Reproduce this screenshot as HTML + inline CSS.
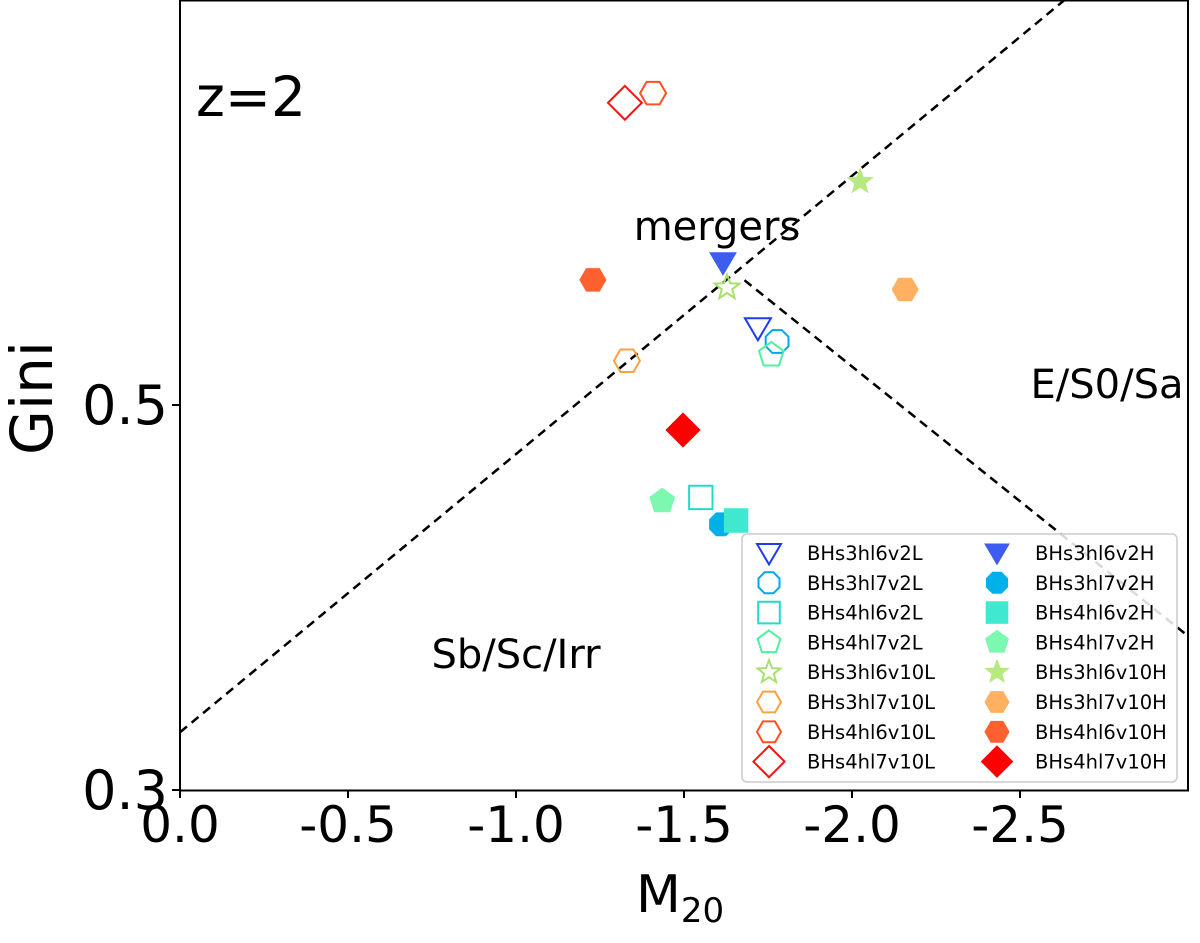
<!DOCTYPE html>
<html><head><meta charset="utf-8"><style>
body{margin:0;background:#fff;}
svg text{font-family:"DejaVu Sans","Liberation Sans",sans-serif;}
</style></head><body>
<svg id="chart" width="1200" height="938" xmlns="http://www.w3.org/2000/svg"></svg>
<script>
const names=["BHs3hl6v2L","BHs3hl7v2L","BHs4hl6v2L","BHs4hl7v2L","BHs3hl6v10L","BHs3hl7v10L","BHs4hl6v10L","BHs4hl7v10L",
"BHs3hl6v2H","BHs3hl7v2H","BHs4hl6v2H","BHs4hl7v2H","BHs3hl6v10H","BHs3hl7v10H","BHs4hl6v10H","BHs4hl7v10H"];
const m20Values=[-1.72,-1.777,-1.55,-1.76,-1.628,-1.33,-1.408,-1.324,-1.616,-1.61,-1.655,-1.435,-2.024,-2.158,-1.229,-1.497];
const giniValues=[0.540,0.533,0.452,0.526,0.561,0.523,0.662,0.657,0.574,0.438,0.440,0.450,0.616,0.560,0.565,0.487];
const shapes=["tri","oct","sq","pent","star","hex","hex","dia","tri","oct","sq","pent","star","hex","hex","dia"];
const colors=["#1f3cf0","#00a8e8","#20dcc8","#50f0a0","#a8e070","#ffa040","#ff5020","#ff1010",
"#3d5cf0","#00b0e8","#40e8d0","#7cf8b0","#b8e880","#ffb060","#ff6030","#ff0000"];
const xTicks=[0,-0.5,-1,-1.5,-2,-2.5];
const yTicks=[0.3,0.5];
const X0=180,X1=1188,Y0=0,Y1=790;
const xS=v=>X0+(-v)*(X1-X0)/3.0;
const yS=g=>405-(g-0.5)*1925;
const svg=document.getElementById('chart');
const NS="http://www.w3.org/2000/svg";
function mk(t,a){const e=document.createElementNS(NS,t);for(const k in a)e.setAttribute(k,a[k]);svg.appendChild(e);return e;}
function poly(n,r,rot){let p=[];for(let i=0;i<n;i++){const a=rot+i*2*Math.PI/n;p.push([r*Math.cos(a),r*Math.sin(a)]);}return p;}
function shapePts(s,cx,cy,r){let p;
 if(s=="tri")p=[[-r,-r*0.75],[r,-r*0.75],[0,r*0.95]];
 else if(s=="oct")p=poly(8,r*0.95,Math.PI/8);
 else if(s=="sq")p=[[-r*0.9,-r*0.9],[r*0.9,-r*0.9],[r*0.9,r*0.9],[-r*0.9,r*0.9]];
 else if(s=="pent")p=poly(5,r,-Math.PI/2);
 else if(s=="hex")p=poly(6,r,0);
 else if(s=="dia")p=[[0,-r*1.3],[r*1.3,0],[0,r*1.3],[-r*1.3,0]];
 else {p=[];for(let i=0;i<10;i++){const rr=i%2?r*0.42:r;const a=-Math.PI/2+i*Math.PI/5;p.push([rr*Math.cos(a),rr*Math.sin(a)]);}}
 return p.map(q=>(cx+q[0]).toFixed(1)+","+(cy+q[1]).toFixed(1)).join(" ");}
const s1=0.1445,b1=0.33;
const l1=[0,-2.632];
const line1=mk('line',{x1:xS(l1[0]),y1:yS(-s1*l1[0]+b1),x2:xS(l1[1]),y2:yS(-s1*l1[1]+b1),stroke:'#000','stroke-width':2.5,'stroke-dasharray':'9,6'});


const l2=[-1.68,-3.0];
const line2=mk('line',{x1:xS(l2[0]),y1:yS(0.14*l2[0]+0.8),x2:xS(l2[1]),y2:yS(0.14*l2[1]+0.8),stroke:'#000','stroke-width':2.5,'stroke-dasharray':'9,6'});


for(let i=0;i<names.length;i++){
 const open=i<8;
 const e=mk('polygon',{points:shapePts(shapes[i],xS(m20Values[i]),yS(giniValues[i]),13),fill:open?'none':colors[i],stroke:colors[i],'stroke-width':open?2:1});
 
 
}
const fr=mk('rect',{x:X0,y:Y0+0.5,width:X1-X0,height:Y1-Y0,fill:'none',stroke:'#000','stroke-width':2});


xTicks.forEach(v=>{
 const x=xS(v);
 const t=mk('line',{x1:x,y1:Y1,x2:x,y2:Y1+8,stroke:'#000','stroke-width':2});
 
 
 const l=mk('text',{x:x,y:Y1+52,'font-size':50,'text-anchor':'middle'});l.textContent=v==0?"0.0":v.toFixed(1);
 
 
});
yTicks.forEach(v=>{
 const y=yS(v);
 const t=mk('line',{x1:X0-8,y1:y,x2:X0,y2:y,stroke:'#000','stroke-width':2});
 
 
 const l=mk('text',{x:X0-12,y:y+19,'font-size':54,'text-anchor':'end'});l.textContent=v.toFixed(1);
 
 
});
</script>
<svg width="1200" height="938" style="position:absolute;left:0;top:0" xmlns="http://www.w3.org/2000/svg">
<text x="52" y="398" font-size="58" text-anchor="middle" transform="rotate(-90 52 398)" font-family="DejaVu Sans,Liberation Sans,sans-serif">Gini</text>
<text x="636" y="912" font-size="52" font-family="DejaVu Sans,Liberation Sans,sans-serif">M<tspan font-size="34" dy="10">20</tspan></text>
<text x="196" y="116" font-size="55" font-family="DejaVu Sans,Liberation Sans,sans-serif">z=2</text>
<text x="717" y="240" font-size="40" text-anchor="middle" font-family="DejaVu Sans,Liberation Sans,sans-serif">mergers</text>
<text x="1107" y="398" font-size="40" text-anchor="middle" font-family="DejaVu Sans,Liberation Sans,sans-serif">E/S0/Sa</text>
<text x="516" y="668" font-size="40" text-anchor="middle" font-family="DejaVu Sans,Liberation Sans,sans-serif">Sb/Sc/Irr</text>
<g id="legend">
<rect x="742" y="534" width="435" height="248" rx="5" fill="rgba(255,255,255,0.85)" stroke="#ccc" stroke-width="1.5"/>
</g>
</svg>
<script>
(function(){
const g=document.getElementById('legend');
const NS="http://www.w3.org/2000/svg";
for(let i=0;i<16;i++){
 const col=i<8?0:1,row=i%8;
 const mx=col?997:769,tx=col?1035:807,y=553+row*29.8;
 const p=document.createElementNS(NS,'polygon');
 p.setAttribute('points',shapePts(shapes[i],mx,y,12));
 p.setAttribute('fill',i<8?'none':colors[i]);
 p.setAttribute('stroke',colors[i]);
 p.setAttribute('stroke-width',i<8?2:1);
 
 
 g.appendChild(p);
 const t=document.createElementNS(NS,'text');
 t.setAttribute('x',tx);t.setAttribute('y',y+7);t.setAttribute('font-size',19.5);
 t.textContent=names[i];
 
 
 g.appendChild(t);
}
})();
</script>
</body></html>
